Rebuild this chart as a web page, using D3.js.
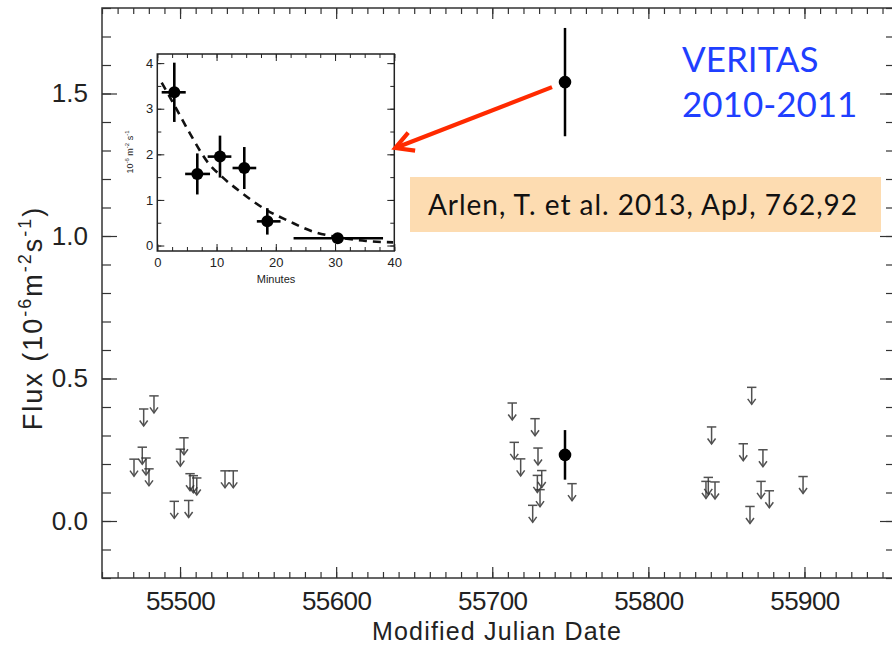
<!DOCTYPE html>
<html>
<head>
<meta charset="utf-8">
<script src="https://cdn.jsdelivr.net/npm/d3@7"></script>
<style>
  html, body { margin: 0; padding: 0; background: #fff; }
  svg { display: block; }
</style>
</head>
<body>
<svg id="chart" width="892" height="645"></svg>
<script>
// ---------------- DATA ----------------
// Upper limits (MJD, flux in 1e-6 m^-2 s^-1)
const ulMJD = [55483.3, 55476.7, 55475.8, 55470.5, 55478.2, 55480.1, 55502.5, 55500.2, 55506.4, 55508.5,
               55510.7, 55496.3, 55505.5, 55528.8, 55534.1,
               55712.8, 55727.4, 55714.1, 55718.2, 55729.3, 55731.7, 55728.9, 55730.6, 55725.9, 55751.1,
               55866.2, 55840.5, 55860.8, 55873.4, 55838.4, 55836.9, 55842.7, 55872.2, 55877.5, 55865.1, 55899.1];
const ulFlux = [0.439, 0.393, 0.259, 0.217, 0.221, 0.183, 0.292, 0.252, 0.166, 0.159,
                0.151, 0.069, 0.072, 0.176, 0.176,
                0.414, 0.359, 0.276, 0.218, 0.256, 0.177, 0.160, 0.110, 0.055, 0.131,
                0.469, 0.330, 0.271, 0.250, 0.153, 0.139, 0.137, 0.139, 0.106, 0.051, 0.156];
// Detections
const detMJD  = [55746.6, 55746.6];
const detFlux = [1.54, 0.232];
const detErr  = [0.19, 0.087];

// Inset light curve (minutes, flux)
const insetMin     = [2.87, 6.75, 10.58, 14.68, 18.57, 30.45];
const insetMinLo   = [0.74, 4.7, 8.5, 12.7, 16.8, 23.0];
const insetMinHi   = [4.8, 8.9, 12.5, 16.7, 20.8, 38.1];
const insetFlux    = [3.36, 1.57, 1.95, 1.70, 0.53, 0.16];
const insetFluxErr = [0.65, 0.45, 0.46, 0.46, 0.29, 0.0];
// Dashed fit curve
const fitMin  = [0.74, 2.7, 5.5, 8.6, 10.9, 14.0, 18.4, 22.3, 26.2, 30.2, 35.2, 39.8];
const fitFlux = [3.57, 3.12, 2.46, 1.81, 1.51, 1.18, 0.78, 0.53, 0.31, 0.19, 0.10, 0.07];

// Tick labels
const xTickLabels = [55500, 55600, 55700, 55800, 55900];
const yTickLabels = [0.0, 0.5, 1.0, 1.5];
const insetXTicks = [0, 10, 20, 30, 40];
const insetYTicks = [0, 1, 2, 3, 4];

// ---------------- DRAW ----------------
const svg = d3.select("#chart");
const FONT = "'Liberation Sans', Arial, sans-serif";
const AX = "#333";

const x = d3.scaleLinear().domain([55450, 55958]).range([102, 895]);
const y = d3.scaleLinear().domain([-0.2, 1.8]).range([578, 8]);

const gMain = svg.append("g");

// frame
gMain.append("rect").attr("x", x.range()[0]).attr("y", y.range()[1])
  .attr("width", x.range()[1] - x.range()[0]).attr("height", y.range()[0] - y.range()[1])
  .attr("fill", "none").attr("stroke", AX).attr("stroke-width", 1.5);

function styleAxis(g) {
  g.select(".domain").remove();
  g.selectAll(".tick line").attr("stroke", AX).attr("stroke-width", 1.2);
  g.selectAll("text").attr("font-family", FONT).attr("fill", "#222");
}

const xMinor = d3.range(55450, 55960, 10);
const xMajor = xTickLabels;
const yMinor = d3.range(-0.2, 1.8001, 0.1).map(v => +v.toFixed(2));

// bottom minor
gMain.append("g").attr("transform", `translate(0,${y.range()[0]})`)
  .call(d3.axisBottom(x).tickValues(xMinor).tickSize(-6).tickFormat(""))
  .call(styleAxis);
// bottom major with labels
gMain.append("g").attr("transform", `translate(0,${y.range()[0]})`)
  .call(d3.axisBottom(x).tickValues(xMajor).tickSize(-11).tickPadding(14).tickFormat(d3.format("d")))
  .call(styleAxis)
  .call(g => g.selectAll("text").attr("font-size", 26).attr("letter-spacing", -0.6));
// top minor + major
gMain.append("g").attr("transform", `translate(0,${y.range()[1]})`)
  .call(d3.axisTop(x).tickValues(xMinor).tickSize(-6).tickFormat(""))
  .call(styleAxis);
gMain.append("g").attr("transform", `translate(0,${y.range()[1]})`)
  .call(d3.axisTop(x).tickValues(xMajor).tickSize(-11).tickFormat(""))
  .call(styleAxis);
// left minor + major
gMain.append("g").attr("transform", `translate(${x.range()[0]},0)`)
  .call(d3.axisLeft(y).tickValues(yMinor).tickSize(-9).tickFormat(""))
  .call(styleAxis);
gMain.append("g").attr("transform", `translate(${x.range()[0]},0)`)
  .call(d3.axisLeft(y).tickValues(yTickLabels).tickSize(-15).tickPadding(14).tickFormat(d3.format(".1f")))
  .call(styleAxis)
  .call(g => g.selectAll("text").attr("font-size", 26));
// right
gMain.append("g").attr("transform", `translate(${x.range()[1]},0)`)
  .call(d3.axisRight(y).tickValues(yMinor).tickSize(-9).tickFormat(""))
  .call(styleAxis);
gMain.append("g").attr("transform", `translate(${x.range()[1]},0)`)
  .call(d3.axisRight(y).tickValues(yTickLabels).tickSize(-15).tickFormat(""))
  .call(styleAxis);

// axis titles
const xt = svg.append("text").attr("x", 497).attr("y", 640).attr("text-anchor", "middle")
  .attr("font-family", FONT).attr("font-size", 25).attr("fill", "#222")
  .text("Modified Julian Date");
{
  const w = xt.node().getComputedTextLength();
  xt.attr("letter-spacing", (250 - w) / 20);
}

const yt = svg.append("text").attr("transform", "translate(42,318) rotate(-90)")
  .attr("text-anchor", "middle").attr("font-family", FONT).attr("font-size", 27).attr("fill", "#222");
yt.append("tspan").text("Flux (10");
yt.append("tspan").attr("font-size", 18).attr("dy", -11).text("-6");
yt.append("tspan").attr("dy", 11).text("m");
yt.append("tspan").attr("font-size", 18).attr("dy", -11).text("-2");
yt.append("tspan").attr("dy", 11).text("s");
yt.append("tspan").attr("font-size", 18).attr("dy", -11).text("-1");
yt.append("tspan").attr("dy", 11).text(")");
{
  const w = yt.node().getComputedTextLength();
  yt.attr("letter-spacing", Math.max(0, Math.min(2, (272 - w) / 17)));
}

// upper limits
const ul = gMain.append("g").attr("stroke", "#333").attr("stroke-width", 1.5).attr("fill", "none");
ulMJD.forEach((m, i) => {
  const cx = x(m), cy = y(ulFlux[i]);
  const g = ul.append("g").attr("opacity", 0.85);
  g.append("line").attr("x1", cx - 4.7).attr("x2", cx + 4.7).attr("y1", cy).attr("y2", cy);
  g.append("line").attr("x1", cx).attr("x2", cx).attr("y1", cy).attr("y2", cy + 17);
  g.append("polyline").attr("points", `${cx - 4},${cy + 11.5} ${cx},${cy + 17} ${cx + 4},${cy + 11.5}`);
});

// detections
detMJD.forEach((m, i) => {
  gMain.append("line").attr("x1", x(m)).attr("x2", x(m))
    .attr("y1", y(detFlux[i] - detErr[i])).attr("y2", y(detFlux[i] + detErr[i]))
    .attr("stroke", "#000").attr("stroke-width", 2.5);
  gMain.append("circle").attr("cx", x(m)).attr("cy", y(detFlux[i])).attr("r", 6.3).attr("fill", "#000");
});

// ---------------- INSET ----------------
const ix = d3.scaleLinear().domain([0, 40]).range([157.3, 394.3]);
const iy = d3.scaleLinear().domain([-0.12, 4.2]).range([251, 54]);
const gIn = svg.append("g");
gIn.append("rect").attr("x", ix.range()[0]).attr("y", iy.range()[1])
  .attr("width", ix.range()[1] - ix.range()[0]).attr("height", iy.range()[0] - iy.range()[1])
  .attr("fill", "#fff").attr("stroke", "#222").attr("stroke-width", 1.5);

function styleInset(g) {
  g.select(".domain").remove();
  g.selectAll(".tick line").attr("stroke", "#222").attr("stroke-width", 1);
  g.selectAll("text").attr("font-family", FONT).attr("fill", "#222").attr("font-size", 13);
}
const ixMinor = d3.range(0, 40.01, 2.5);
const iyMinor = d3.range(0, 4.01, 0.5);
gIn.append("g").attr("transform", `translate(0,${iy.range()[0]})`)
  .call(d3.axisBottom(ix).tickValues(ixMinor).tickSize(-4).tickFormat(""))
  .call(styleInset);
gIn.append("g").attr("transform", `translate(0,${iy.range()[0]})`)
  .call(d3.axisBottom(ix).tickValues(insetXTicks).tickSize(-7).tickPadding(7).tickFormat(d3.format("d")))
  .call(styleInset);
gIn.append("g").attr("transform", `translate(0,${iy.range()[1]})`)
  .call(d3.axisTop(ix).tickValues(ixMinor).tickSize(-4).tickFormat(""))
  .call(styleInset);
gIn.append("g").attr("transform", `translate(0,${iy.range()[1]})`)
  .call(d3.axisTop(ix).tickValues(insetXTicks).tickSize(-7).tickFormat(""))
  .call(styleInset);
gIn.append("g").attr("transform", `translate(${ix.range()[0]},0)`)
  .call(d3.axisLeft(iy).tickValues(iyMinor).tickSize(-4).tickFormat(""))
  .call(styleInset);
gIn.append("g").attr("transform", `translate(${ix.range()[0]},0)`)
  .call(d3.axisLeft(iy).tickValues(insetYTicks).tickSize(-7).tickPadding(4).tickFormat(d3.format("d")))
  .call(styleInset);
gIn.append("g").attr("transform", `translate(${ix.range()[1]},0)`)
  .call(d3.axisRight(iy).tickValues(iyMinor).tickSize(-4).tickFormat(""))
  .call(styleInset);
gIn.append("g").attr("transform", `translate(${ix.range()[1]},0)`)
  .call(d3.axisRight(iy).tickValues(insetYTicks).tickSize(-7).tickFormat(""))
  .call(styleInset);

svg.append("text").attr("x", 276).attr("y", 283).attr("text-anchor", "middle")
  .attr("font-family", FONT).attr("font-size", 11).attr("fill", "#222").text("Minutes");
const iyt = svg.append("text").attr("transform", "translate(133,152) rotate(-90)")
  .attr("text-anchor", "middle").attr("font-family", FONT).attr("font-size", 9).attr("fill", "#222");
iyt.append("tspan").text("10");
iyt.append("tspan").attr("font-size", 6).attr("dy", -4).text("-6");
iyt.append("tspan").attr("dy", 4).text(" m");
iyt.append("tspan").attr("font-size", 6).attr("dy", -4).text("-2");
iyt.append("tspan").attr("dy", 4).text(" s");
iyt.append("tspan").attr("font-size", 6).attr("dy", -4).text("-1");

// fit curve
gIn.append("path")
  .attr("d", d3.line().x((d, i) => ix(fitMin[i])).y((d, i) => iy(fitFlux[i])).curve(d3.curveMonotoneX)(fitMin))
  .attr("fill", "none").attr("stroke", "#111").attr("stroke-width", 2.6).attr("stroke-dasharray", "8,6");

// inset points
insetMin.forEach((t, i) => {
  gIn.append("line").attr("x1", ix(insetMinLo[i])).attr("x2", ix(insetMinHi[i]))
    .attr("y1", iy(insetFlux[i])).attr("y2", iy(insetFlux[i]))
    .attr("stroke", "#000").attr("stroke-width", 2.6);
  if (insetFluxErr[i] > 0) {
    gIn.append("line").attr("x1", ix(t)).attr("x2", ix(t))
      .attr("y1", iy(insetFlux[i] - insetFluxErr[i])).attr("y2", iy(insetFlux[i] + insetFluxErr[i]))
      .attr("stroke", "#000").attr("stroke-width", 2.6);
  }
  gIn.append("circle").attr("cx", ix(t)).attr("cy", iy(insetFlux[i])).attr("r", 6).attr("fill", "#000");
});

// ---------------- ANNOTATIONS ----------------
// red arrow from flare point to inset
const ax1 = x(detMJD[0]) - 13, ay1 = y(detFlux[0]) + 5;
const ax2 = ix.range()[1] + 1, ay2 = 148;
const ang = Math.atan2(ay1 - ay2, ax1 - ax2);
const ah = 20, spread = 0.5;
svg.append("line").attr("x1", ax1).attr("y1", ay1).attr("x2", ax2 + 2 * Math.cos(ang)).attr("y2", ay2 + 2 * Math.sin(ang))
  .attr("stroke", "#ff2a00").attr("stroke-width", 4.2).attr("stroke-linecap", "butt");
svg.append("polyline")
  .attr("points", `${ax2 + ah * Math.cos(ang - spread)},${ay2 + ah * Math.sin(ang - spread)} ${ax2},${ay2} ${ax2 + ah * Math.cos(ang + spread)},${ay2 + ah * Math.sin(ang + spread)}`)
  .attr("fill", "none").attr("stroke", "#ff2a00").attr("stroke-width", 4.2).attr("stroke-linejoin", "miter");

// VERITAS label
const SANS2 = "Lato, 'Open Sans', sans-serif";
svg.append("text").attr("x", 682).attr("y", 72).attr("font-family", SANS2).attr("font-size", 35)
  .attr("fill", "#1f3fff").text("VERITAS");
svg.append("text").attr("x", 682).attr("y", 117).attr("font-family", SANS2).attr("font-size", 35)
  .attr("fill", "#1f3fff").text("2010-2011");

// citation box
svg.append("rect").attr("x", 410).attr("y", 177).attr("width", 471).attr("height", 55).attr("fill", "#fddcb1");
const cite = svg.append("text").attr("x", 428).attr("y", 215).attr("font-family", SANS2).attr("font-size", 28)
  .attr("fill", "#111").text("Arlen, T. et al. 2013, ApJ, 762,92");
{
  const w = cite.node().getComputedTextLength();
  cite.attr("letter-spacing", (430 - w) / 34);
}
</script>
</body>
</html>
